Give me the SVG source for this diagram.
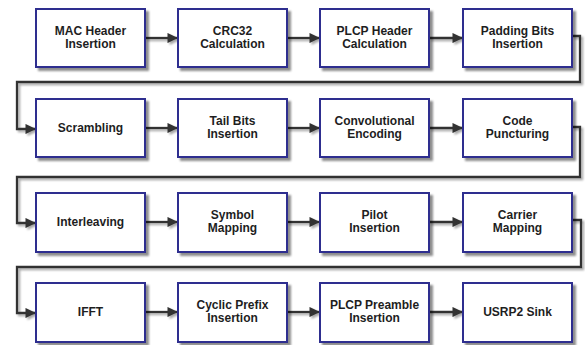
<svg xmlns="http://www.w3.org/2000/svg" width="585" height="345" viewBox="0 0 585 345">
  <defs>
    <filter id="shadow" x="-10%" y="-10%" width="130%" height="140%">
      <feGaussianBlur in="SourceAlpha" stdDeviation="1.2"/>
      <feOffset dx="2.5" dy="2.5" result="b"/>
      <feComponentTransfer><feFuncA type="linear" slope="0.45"/></feComponentTransfer>
      <feMerge><feMergeNode/><feMergeNode in="SourceGraphic"/></feMerge>
    </filter>
    <!-- user-space region so straight (zero-height) wires still render -->
    <filter id="wireShadow" filterUnits="userSpaceOnUse" x="0" y="0" width="585" height="345">
      <feGaussianBlur in="SourceAlpha" stdDeviation="1"/>
      <feOffset dx="2" dy="2" result="b"/>
      <feComponentTransfer><feFuncA type="linear" slope="0.35"/></feComponentTransfer>
      <feMerge><feMergeNode/><feMergeNode in="SourceGraphic"/></feMerge>
    </filter>
    <marker id="arrow" viewBox="0 0 10 10" refX="9" refY="5" markerWidth="4.6" markerHeight="4.4" orient="auto" markerUnits="strokeWidth" preserveAspectRatio="none">
      <path d="M0,0 L10,5 L0,10 z" fill="#333"/>
    </marker>
  </defs>
  <style>
    .box { fill: #ffffff; stroke: #2d2d8f; stroke-width: 2; filter: url(#shadow); }
    .lbl { font-family: "Liberation Sans", Arial, sans-serif; font-size: 12px; font-weight: bold; fill: #1e1e1e; text-anchor: middle; }
    .wire { fill: none; stroke: #333; stroke-width: 2.3; }
  </style>
  <rect width="585" height="345" fill="#ffffff"/>

  <!-- connectors -->
  <g id="connectors" filter="url(#wireShadow)">
    <!-- row 1 -->
    <path class="wire" d="M145,38 H177" marker-end="url(#arrow)"/>
    <path class="wire" d="M287,38 H319" marker-end="url(#arrow)"/>
    <path class="wire" d="M429,38 H462" marker-end="url(#arrow)"/>
    <path class="wire" d="M572,36 H580 V82 H17 V129 H35" marker-end="url(#arrow)"/>
    <!-- row 2 -->
    <path class="wire" d="M145,128 H177" marker-end="url(#arrow)"/>
    <path class="wire" d="M287,128 H319" marker-end="url(#arrow)"/>
    <path class="wire" d="M429,128 H462" marker-end="url(#arrow)"/>
    <path class="wire" d="M572,127 H580 V177 H17 V223 H35" marker-end="url(#arrow)"/>
    <!-- row 3 -->
    <path class="wire" d="M145,222 H177" marker-end="url(#arrow)"/>
    <path class="wire" d="M287,222 H319" marker-end="url(#arrow)"/>
    <path class="wire" d="M429,222 H462" marker-end="url(#arrow)"/>
    <path class="wire" d="M572,220 H581 V267 H17 V313 H35" marker-end="url(#arrow)"/>
    <!-- row 4 -->
    <path class="wire" d="M145,312 H177" marker-end="url(#arrow)"/>
    <path class="wire" d="M287,312 H319" marker-end="url(#arrow)"/>
    <path class="wire" d="M429,312 H462" marker-end="url(#arrow)"/>
  </g>

  <!-- row 1 -->
  <g id="mac-header">
    <rect class="box" x="36" y="9" width="109" height="58"/>
    <text class="lbl" x="90.5" y="35">MAC Header</text>
    <text class="lbl" x="90.5" y="48">Insertion</text>
  </g>
  <g id="crc32">
    <rect class="box" x="178" y="9" width="109" height="58"/>
    <text class="lbl" x="232.5" y="35">CRC32</text>
    <text class="lbl" x="232.5" y="48">Calculation</text>
  </g>
  <g id="plcp-header">
    <rect class="box" x="320" y="9" width="109" height="58"/>
    <text class="lbl" x="374.5" y="35">PLCP Header</text>
    <text class="lbl" x="374.5" y="48">Calculation</text>
  </g>
  <g id="padding-bits">
    <rect class="box" x="463" y="9" width="109" height="58"/>
    <text class="lbl" x="517.5" y="35">Padding Bits</text>
    <text class="lbl" x="517.5" y="48">Insertion</text>
  </g>

  <!-- row 2 -->
  <g id="scrambling">
    <rect class="box" x="36" y="99" width="109" height="58"/>
    <text class="lbl" x="90.5" y="132">Scrambling</text>
  </g>
  <g id="tail-bits">
    <rect class="box" x="178" y="99" width="109" height="58"/>
    <text class="lbl" x="232.5" y="125">Tail Bits</text>
    <text class="lbl" x="232.5" y="138">Insertion</text>
  </g>
  <g id="convolutional">
    <rect class="box" x="320" y="99" width="109" height="58"/>
    <text class="lbl" x="374.5" y="125">Convolutional</text>
    <text class="lbl" x="374.5" y="138">Encoding</text>
  </g>
  <g id="puncturing">
    <rect class="box" x="463" y="99" width="109" height="58"/>
    <text class="lbl" x="517.5" y="125">Code</text>
    <text class="lbl" x="517.5" y="138">Puncturing</text>
  </g>

  <!-- row 3 -->
  <g id="interleaving">
    <rect class="box" x="36" y="193" width="109" height="59"/>
    <text class="lbl" x="90.5" y="226">Interleaving</text>
  </g>
  <g id="symbol-mapping">
    <rect class="box" x="178" y="193" width="109" height="59"/>
    <text class="lbl" x="232.5" y="219">Symbol</text>
    <text class="lbl" x="232.5" y="232">Mapping</text>
  </g>
  <g id="pilot">
    <rect class="box" x="320" y="193" width="109" height="59"/>
    <text class="lbl" x="374.5" y="219">Pilot</text>
    <text class="lbl" x="374.5" y="232">Insertion</text>
  </g>
  <g id="carrier-mapping">
    <rect class="box" x="463" y="193" width="109" height="59"/>
    <text class="lbl" x="517.5" y="219">Carrier</text>
    <text class="lbl" x="517.5" y="232">Mapping</text>
  </g>

  <!-- row 4 -->
  <g id="ifft">
    <rect class="box" x="36" y="283" width="109" height="59"/>
    <text class="lbl" x="90.5" y="316">IFFT</text>
  </g>
  <g id="cyclic-prefix">
    <rect class="box" x="178" y="283" width="109" height="59"/>
    <text class="lbl" x="232.5" y="309">Cyclic Prefix</text>
    <text class="lbl" x="232.5" y="322">Insertion</text>
  </g>
  <g id="plcp-preamble">
    <rect class="box" x="320" y="283" width="109" height="59"/>
    <text class="lbl" x="374.5" y="309">PLCP Preamble</text>
    <text class="lbl" x="374.5" y="322">Insertion</text>
  </g>
  <g id="usrp2-sink">
    <rect class="box" x="463" y="283" width="109" height="59"/>
    <text class="lbl" x="517.5" y="316">USRP2 Sink</text>
  </g>
</svg>
